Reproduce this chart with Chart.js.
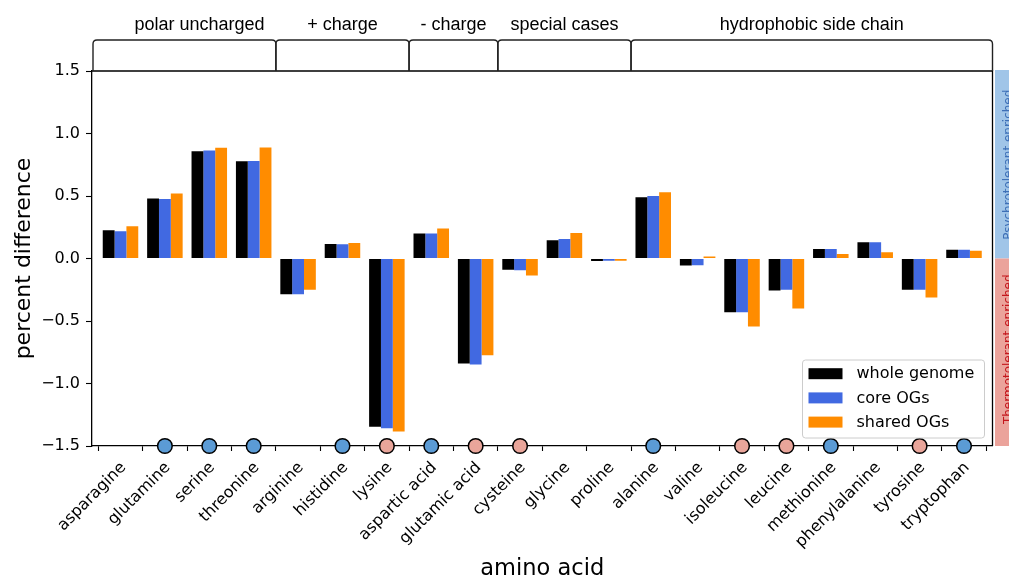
<!DOCTYPE html>
<html>
<head>
<meta charset="utf-8">
<title>Amino acid composition difference</title>
<script src="https://cdn.jsdelivr.net/npm/chart.js@4.4.1/dist/chart.umd.min.js"></script>
<style>
  html, body { margin: 0; padding: 0; background: #fff; }
  #wrap { width: 1009px; height: 579px; }
</style>
</head>
<body>
<div id="wrap"><canvas id="chart" width="1009" height="579"></canvas></div>
<script>
// Amino acids along the x axis
const aminoAcids = ['asparagine', 'glutamine', 'serine', 'threonine', 'arginine', 'histidine',
  'lysine', 'aspartic acid', 'glutamic acid', 'cysteine', 'glycine', 'proline', 'alanine',
  'valine', 'isoleucine', 'leucine', 'methionine', 'phenylalanine', 'tyrosine', 'tryptophan'];

// Percent difference per amino acid for each gene set
const wholeGenome = [0.227, 0.48, 0.859, 0.779, -0.285, 0.117, -1.346, 0.20, -0.84, -0.09,
  0.147, -0.02, 0.49, -0.056, -0.43, -0.256, 0.077, 0.131, -0.25, 0.07];
const coreOGs = [0.219, 0.477, 0.864, 0.781, -0.285, 0.115, -1.357, 0.20, -0.848, -0.094,
  0.157, -0.018, 0.50, -0.053, -0.43, -0.25, 0.077, 0.131, -0.25, 0.07];
const sharedOGs = [0.259, 0.52, 0.886, 0.888, -0.25, 0.125, -1.384, 0.24, -0.773, -0.136,
  0.205, -0.018, 0.53, 0.016, -0.544, -0.40, 0.037, 0.05, -0.312, 0.062];

const seriesNames = ['whole genome', 'core OGs', 'shared OGs'];

// Which side each amino acid is enriched in (P = psychrotolerant, T = thermotolerant)
const enrichment = ['', 'P', 'P', 'P', '', 'P', 'T', 'P', 'T', 'T',
  '', '', 'P', '', 'T', 'T', 'P', '', 'T', 'P'];

// Side-chain groups shown as brackets above the plot
const groupNames = ['polar uncharged', '+ charge', '- charge', 'special cases', 'hydrophobic side chain'];
const groupSizes = [4, 3, 2, 3, 8];

const bandLabels = ['Psychrotolerant enriched', 'Thermotolerant enriched'];

const yTicks = [-1.5, -1.0, -0.5, 0.0, 0.5, 1.0, 1.5];
const yMin = -1.5, yMax = 1.5;

// ---- styling ----
const seriesColors = ['#000000', '#4169E1', '#FF8C00'];
const psychroColor = '#5B9BD5';
const thermoColor = '#E9A59A';
const FONT = 'DejaVu Sans';

function fmtTick(v) {
  const s = Math.abs(v).toFixed(1);
  return v < 0 ? '\u2212' + s : s;
}

const markerPoints = [];
const markerColors = [];
enrichment.forEach((e, i) => {
  if (e) {
    markerPoints.push({ x: i, y: yMin });
    markerColors.push(e === 'P' ? psychroColor : thermoColor);
  }
});

function roundedBracket(ctx, x0, x1, yTop, yBottom, r) {
  ctx.beginPath();
  ctx.moveTo(x0, yBottom);
  ctx.lineTo(x0, yTop + r);
  ctx.quadraticCurveTo(x0, yTop, x0 + r, yTop);
  ctx.lineTo(x1 - r, yTop);
  ctx.quadraticCurveTo(x1, yTop, x1, yTop + r);
  ctx.lineTo(x1, yBottom);
  ctx.stroke();
}

const decorations = {
  id: 'decorations',
  beforeDatasetsDraw(chart) {
    const { ctx, chartArea: a } = chart;
    // top and right spines
    ctx.save();
    ctx.strokeStyle = '#000';
    ctx.lineWidth = 1.3;
    ctx.beginPath();
    ctx.moveTo(a.left, a.top);
    ctx.lineTo(a.right, a.top);
    ctx.lineTo(a.right, a.bottom);
    ctx.stroke();
    ctx.restore();
  },
  afterDraw(chart) {
    const { ctx, chartArea: a, scales } = chart;
    const xs = scales.x, ys = scales.y;
    ctx.save();

    // group brackets and their labels
    ctx.strokeStyle = '#222';
    ctx.lineWidth = 1.4;
    let start = 0;
    groupSizes.forEach((n, g) => {
      const end = start + n - 1;
      const x0 = g === 0 ? a.left + 1 : xs.getPixelForValue(start - 0.5);
      const x1 = g === groupSizes.length - 1 ? a.right : xs.getPixelForValue(end + 0.5);
      roundedBracket(ctx, x0, x1, 40, a.top, 4);
      let cx = (x0 + x1) / 2;
      if (g === 0) cx += 15;
      ctx.fillStyle = '#000';
      ctx.font = '18px "Liberation Sans", Arial, sans-serif';
      ctx.textAlign = 'center';
      ctx.textBaseline = 'alphabetic';
      ctx.fillText(groupNames[g], cx, 30);
      start += n;
    });

    // enrichment bands on the right
    const y0 = ys.getPixelForValue(0);
    const bx = a.right + 2.5;
    ctx.fillStyle = '#A0C5E8';
    ctx.fillRect(bx, a.top - 1, 20, y0 - a.top + 1);
    ctx.fillStyle = '#EBA39B';
    ctx.fillRect(bx, y0, 20, a.bottom - y0);
    ctx.font = '12px "' + FONT + '"';
    ctx.textAlign = 'center';
    ctx.textBaseline = 'alphabetic';
    [[bandLabels[0], (a.top + y0) / 2, '#3D6FB6'], [bandLabels[1], (y0 + a.bottom) / 2 - 3, '#C4161C']]
      .forEach(([txt, cy, col]) => {
        ctx.save();
        ctx.translate(bx + 16.5, cy);
        ctx.rotate(-Math.PI / 2);
        ctx.fillStyle = col;
        ctx.fillText(txt, 0, 0);
        ctx.restore();
      });

    // legend, lower right inside the axes
    const lw = 182, lh = 78;
    const lx = a.right - 8 - lw, ly = a.bottom - 8 - lh;
    ctx.beginPath();
    ctx.roundRect(lx, ly, lw, lh, 3);
    ctx.fillStyle = 'rgba(255,255,255,0.85)';
    ctx.fill();
    ctx.strokeStyle = '#cccccc';
    ctx.lineWidth = 1;
    ctx.stroke();
    ctx.font = '16px "' + FONT + '"';
    ctx.textAlign = 'left';
    ctx.textBaseline = 'middle';
    seriesNames.forEach((name, k) => {
      const cy = ly + 13.7 + k * 24.2;
      ctx.fillStyle = seriesColors[k];
      ctx.fillRect(lx + 6, cy - 5.5, 34, 11);
      ctx.fillStyle = '#000';
      ctx.fillText(name, lx + 54, cy + 0.5);
    });

    ctx.restore();
  }
};

const barSet = (vals, k) => ({
  type: 'bar',
  label: seriesNames[k],
  data: vals.map((v, i) => ({ x: i, y: v })),
  backgroundColor: seriesColors[k],
  borderWidth: 0,
  barPercentage: 1.0,
  categoryPercentage: 0.8,
  order: 2
});

new Chart(document.getElementById('chart'), {
  type: 'bar',
  data: {
    datasets: [
      barSet(wholeGenome, 0),
      barSet(coreOGs, 1),
      barSet(sharedOGs, 2),
      {
        type: 'line',
        label: 'enrichment',
        data: markerPoints,
        showLine: false,
        pointRadius: 7.3,
        pointHoverRadius: 7.3,
        pointBackgroundColor: markerColors,
        pointBorderColor: '#000',
        pointBorderWidth: 1.5,
        clip: false,
        order: 1
      }
    ]
  },
  options: {
    responsive: false,
    animation: false,
    devicePixelRatio: 1,
    layout: { padding: { top: 71, right: 16.5, left: 0, bottom: 0 } },
    plugins: { legend: { display: false }, tooltip: { enabled: false } },
    scales: {
      x: {
        type: 'linear',
        min: -0.642,
        max: 19.642,
        offset: false,
        afterBuildTicks: s => { s.ticks = aminoAcids.map((_, i) => ({ value: i })); },
        afterFit: s => { s.height = 133; },
        ticks: {
          callback: v => aminoAcids[v],
          autoSkip: false,
          minRotation: 45,
          maxRotation: 45,
          padding: 8,
          labelOffset: 3,
          color: '#000',
          font: { family: FONT, size: 16, lineHeight: 1.1 }
        },
        grid: { drawOnChartArea: false, drawTicks: true, tickLength: 5, color: '#000', tickWidth: 1.1 },
        border: { display: true, color: '#000', width: 1.3 },
        title: {
          display: true,
          text: 'amino acid',
          color: '#000',
          font: { family: FONT, size: 22.5, lineHeight: 0.85 },
          padding: { top: 0, bottom: 0 }
        }
      },
      y: {
        min: yMin,
        max: yMax,
        afterBuildTicks: s => { s.ticks = yTicks.map(v => ({ value: v })); },
        afterFit: s => { s.width = 92; },
        ticks: {
          callback: v => fmtTick(v),
          padding: 6,
          color: '#000',
          font: { family: FONT, size: 16 }
        },
        grid: { drawOnChartArea: false, drawTicks: true, tickLength: 6, color: '#000', tickWidth: 1.1 },
        border: { display: true, color: '#000', width: 1.3 },
        title: {
          display: true,
          text: 'percent difference',
          color: '#000',
          font: { family: FONT, size: 22, lineHeight: 1 },
          padding: { top: 13, bottom: 0 }
        }
      }
    }
  },
  plugins: [decorations]
});
</script>
</body>
</html>
